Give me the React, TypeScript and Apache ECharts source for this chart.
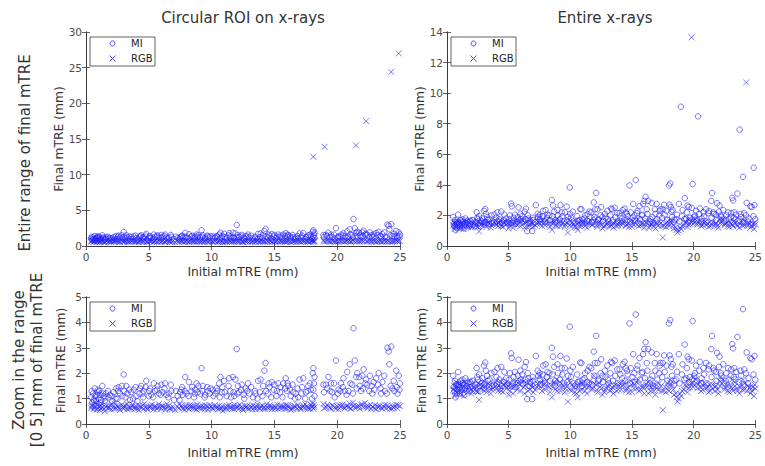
import React, { useEffect, useRef } from 'react';
import * as echarts from 'echarts';

const panelTitles = ['Circular ROI on x-rays', 'Entire x-rays'];
const rowLabelTop = 'Entire range of final mTRE';
const rowLabelBottom = ['Zoom in the range', '[0 5] mm of final mTRE'];
const xAxisName = 'Initial mTRE (mm)';
const yAxisName = 'Final mTRE (mm)';
const seriesNames = ['MI', 'RGB'];

// [min, max, interval]
const xRange = [0, 25, 5];
const yRangeCircFull = [0, 30, 5];
const yRangeEntFull = [0, 14, 2];
const yRangeZoom = [0, 5, 1];

// Circular ROI on x-rays: [initial mTRE, final mTRE]
const circMI = [
  [0.4,1.05],[0.5,0.85],[0.55,1.2],[0.6,0.95],[0.7,1.4],[0.75,1.1],[0.8,0.9],[0.9,1.25],[1.0,1.0],[1.05,1.3],
  [1.1,1.15],[1.2,0.95],[1.3,1.5],[1.4,1.1],[1.5,0.9],[1.6,1.2],[1.8,1.05],[1.9,1.15],[2.1,0.9],[2.2,1.25],
  [2.4,1.4],[2.5,1.0],[2.6,1.45],[2.7,1.2],[2.9,1.1],[3.0,1.95],[3.05,1.3],[3.2,1.5],[3.3,1.2],[3.5,0.95],
  [3.6,1.25],[3.8,1.35],[4.0,1.1],[4.1,0.9],[4.3,1.4],[4.4,1.5],[4.5,1.2],[4.6,1.3],[4.8,1.7],[5.0,1.1],
  [5.1,1.4],[5.2,1.15],[5.4,1.6],[5.5,1.3],[5.7,1.5],[5.8,1.2],[6.0,1.55],[6.1,1.25],[6.3,1.6],[6.4,1.15],
  [6.6,1.2],[6.8,1.3],[7.0,0.95],[7.3,1.1],[7.5,1.25],[7.6,1.35],[7.7,1.15],[7.9,1.85],[8.0,1.2],[8.2,1.65],
  [8.4,1.3],[8.6,1.05],[8.7,1.35],[8.8,1.6],[8.9,1.25],[9.1,1.2],[9.2,2.2],[9.3,1.5],[9.5,1.15],[9.7,1.3],
  [9.9,1.4],[10.1,1.35],[10.3,1.2],[10.4,1.4],[10.6,1.6],[10.7,1.85],[10.8,1.25],[11.0,1.7],[11.2,1.1],[11.4,1.8],
  [11.5,1.3],[11.7,1.85],[11.8,1.1],[11.9,1.75],[12.0,2.95],[12.1,1.5],[12.2,1.25],[12.4,1.55],[12.6,1.0],[12.7,1.4],
  [12.9,1.6],[13.0,1.2],[13.3,1.05],[13.5,1.2],[13.7,1.7],[13.9,1.75],[14.1,1.5],[14.2,2.1],[14.3,2.4],[14.5,1.2],
  [14.6,1.45],[14.8,1.65],[15.0,1.55],[15.2,1.3],[15.3,1.6],[15.5,1.45],[15.7,1.6],[15.9,1.8],[16.0,1.3],[16.1,1.5],
  [16.3,1.1],[16.5,1.25],[16.7,1.2],[16.9,1.05],[17.0,1.75],[17.2,1.45],[17.3,1.8],[17.5,1.25],[17.7,1.5],[17.9,1.35],
  [18.0,1.0],[18.05,2.0],[18.1,2.2],[18.15,1.6],[18.2,1.85],[18.2,1.1],[18.9,1.55],[19.1,1.55],[19.3,1.85],[19.5,1.6],
  [19.6,1.25],[19.8,1.05],[19.9,2.5],[20.1,1.35],[20.3,1.6],[20.5,1.8],[20.6,1.3],[20.8,2.05],[20.9,1.3],[21.0,2.35],
  [21.2,1.55],[21.3,3.77],[21.4,2.5],[21.5,1.85],[21.6,2.0],[21.8,1.5],[21.9,1.3],[22.0,1.9],[22.1,2.15],[22.3,1.75],
  [22.4,1.55],[22.6,1.9],[22.8,1.2],[22.9,1.65],[23.1,1.8],[23.3,2.0],[23.5,1.2],[23.6,1.65],[23.8,1.3],[24.0,3.0],
  [24.1,2.85],[24.15,2.35],[24.3,3.05],[24.4,1.4],[24.5,1.7],[24.7,2.1],[24.8,1.2],[24.9,1.9],[25.0,1.6],
  [0.45,1.3],[0.65,0.9],[0.85,1.15],[0.95,1.35],[1.15,0.85],[1.35,1.2],[1.55,1.05],[1.75,1.3],[2.05,1.1],[2.35,1.0],
  [2.55,1.3],[2.85,1.5],[3.15,1.05],[3.45,1.35],[3.75,1.0],[3.95,1.45],[4.25,1.2],[4.55,1.05],[4.75,1.45],[5.05,1.3],
  [5.35,1.05],[5.65,1.35],[5.95,1.15],[6.25,1.4],[6.55,1.05],[6.75,1.55],[7.15,1.3],[7.45,0.95],[7.65,1.45],[7.85,1.3],
  [8.15,1.1],[8.45,1.45],[8.65,1.2],[8.95,1.5],[9.25,1.3],[9.45,1.05],[9.65,1.45],[9.85,1.2],[10.15,1.1],[10.45,1.3],
  [10.65,1.05],[10.85,1.45],[11.05,1.25],[11.35,1.5],[11.55,1.05],[11.75,1.25],[12.05,1.2],[12.35,1.35],[12.55,1.15],[12.85,1.3],
  [13.15,1.45],[13.45,1.3],[13.65,1.0],[13.85,1.25],[14.05,1.1],[14.35,1.3],[14.55,1.6],[14.75,1.05],[14.95,1.35],[15.15,1.1],
  [15.45,1.25],[15.65,1.05],[15.85,1.4],[16.05,1.6],[16.25,1.35],[16.45,1.55],[16.65,1.0],[16.85,1.4],[17.15,1.2],[17.45,1.0],
  [17.65,1.3],[17.85,1.6],[18.1,1.35],[18.95,1.25],[19.2,1.4],[19.45,1.3],[19.75,1.6],[20.05,1.2],[20.25,1.3],[20.45,1.45],
  [20.75,1.15],[21.05,1.6],[21.25,1.2],[21.55,1.4],[21.75,1.85],[22.05,1.4],[22.25,1.6],[22.55,1.3],[22.75,1.5],[22.95,1.35],
  [23.25,1.55],[23.45,1.4],[23.75,1.9],[23.95,1.2],[24.25,1.5],[24.55,1.3],[24.75,1.45],[24.95,1.35]
];

const circRGB = [
  [0.4,0.62],[0.5,0.75],[0.6,0.58],[0.7,0.7],[0.8,0.82],[0.9,0.6],[1.0,0.68],[1.1,0.55],[1.2,0.72],[1.3,0.64],
  [1.5,0.5],[1.6,0.66],[1.8,0.6],[1.9,0.74],[2.0,0.57],[2.2,0.68],[2.3,0.8],[2.4,0.62],[2.6,0.7],[2.7,0.55],
  [2.9,0.66],[3.0,0.6],[3.1,0.72],[3.3,0.58],[3.4,0.68],[3.6,0.62],[3.7,0.76],[3.9,0.6],[4.0,0.7],[4.2,0.55],
  [4.3,0.66],[4.5,0.74],[4.6,0.6],[4.8,0.68],[4.9,0.57],[5.1,0.72],[5.2,0.63],[5.4,0.58],[5.5,0.7],[5.7,0.65],
  [5.8,0.78],[6.0,0.6],[6.1,0.7],[6.3,0.56],[6.4,0.66],[6.6,0.73],[6.7,0.6],[6.9,0.68],[7.1,0.55],[7.4,0.62],
  [7.6,0.72],[7.7,0.6],[7.9,0.66],[8.0,0.75],[8.2,0.58],[8.3,0.68],[8.5,0.62],[8.6,0.72],[8.8,0.57],[8.9,0.66],
  [9.1,0.7],[9.2,0.6],[9.4,0.65],[9.5,0.74],[9.7,0.56],[9.8,0.64],[10.0,0.7],[10.1,0.6],[10.3,0.66],[10.5,0.58],
  [10.6,0.72],[10.8,0.62],[10.9,0.52],[11.1,0.68],[11.2,0.6],[11.4,0.75],[11.5,0.63],[11.7,0.7],[11.8,0.58],[11.9,0.66],
  [12.1,0.72],[12.2,0.6],[12.4,0.68],[12.5,0.55],[12.7,0.64],[12.8,0.7],[13.0,0.6],[13.2,0.66],[13.3,0.74],[13.5,0.58],
  [13.6,0.68],[13.8,0.62],[13.9,0.7],[14.1,0.6],[14.2,0.66],[14.4,0.78],[14.5,0.62],[14.7,0.68],[14.8,0.58],[15.0,0.7],
  [15.1,0.64],[15.3,0.6],[15.5,0.72],[15.6,0.62],[15.8,0.68],[15.9,0.75],[16.0,0.6],[16.1,0.7],[16.3,0.56],[16.5,0.66],
  [16.6,0.72],[16.8,0.6],[17.0,0.68],[17.1,0.58],[17.3,0.72],[17.4,0.64],[17.6,0.7],[17.7,0.6],[17.9,0.76],[18.0,0.66],
  [18.05,0.82],[18.1,0.6],[18.15,0.74],[18.1,12.5],[18.9,0.78],[19.0,13.9],[19.1,0.66],[19.3,0.7],[19.5,0.6],[19.6,0.74],
  [19.8,0.65],[20.0,0.7],[20.1,0.58],[20.3,0.68],[20.4,0.76],[20.6,0.62],[20.7,0.7],[20.9,0.66],[21.0,0.8],[21.1,0.6],
  [21.3,0.72],[21.4,0.64],[21.5,14.1],[21.6,0.7],[21.8,0.6],[21.9,0.76],[22.1,0.66],[22.2,0.82],[22.3,17.5],[22.4,0.62],
  [22.5,0.7],[22.7,0.6],[22.8,0.68],[23.0,0.74],[23.1,0.58],[23.3,0.66],[23.4,0.72],[23.6,0.6],[23.7,0.68],[23.9,0.62],
  [24.0,0.74],[24.2,0.6],[24.3,24.4],[24.4,0.7],[24.5,0.64],[24.7,0.76],[24.8,0.62],[24.9,27.0],[25.0,0.7],
  [0.45,0.7],[0.65,0.64],[0.85,0.56],[0.95,0.74],[1.15,0.62],[1.25,0.8],[1.45,0.6],[1.65,0.72],[1.85,0.66],[2.05,0.78],
  [2.25,0.6],[2.45,0.72],[2.65,0.62],[2.85,0.76],[3.05,0.66],[3.25,0.8],[3.45,0.6],[3.65,0.7],[3.85,0.66],[4.05,0.6],
  [4.25,0.74],[4.45,0.64],[4.65,0.8],[4.85,0.62],[5.05,0.66],[5.25,0.76],[5.45,0.68],[5.65,0.58],[5.85,0.68],[6.05,0.72],
  [6.25,0.64],[6.45,0.78],[6.65,0.62],[6.85,0.58],[7.25,0.7],[7.45,0.76],[7.65,0.66],[7.85,0.56],[8.05,0.64],[8.25,0.74],
  [8.45,0.7],[8.65,0.6],[8.85,0.76],[9.05,0.62],[9.25,0.72],[9.45,0.58],[9.65,0.7],[9.85,0.74],[10.05,0.62],[10.25,0.74],
  [10.45,0.66],[10.65,0.6],[10.85,0.7],[11.05,0.58],[11.25,0.7],[11.45,0.66],[11.65,0.6],[11.85,0.76],[12.05,0.64],[12.25,0.76],
  [12.45,0.6],[12.65,0.72],[12.85,0.62],[13.05,0.7],[13.25,0.58],[13.45,0.66],[13.65,0.76],[13.85,0.6],[14.05,0.72],[14.25,0.6],
  [14.45,0.66],[14.65,0.74],[14.85,0.66],[15.05,0.6],[15.25,0.76],[15.45,0.64],[15.65,0.7],[15.85,0.6],[16.05,0.74],[16.25,0.64],
  [16.45,0.6],[16.65,0.68],[16.85,0.74],[17.05,0.62],[17.25,0.66],[17.45,0.78],[17.65,0.64],[17.85,0.6],[18.0,0.72],[18.2,0.66],
  [18.95,0.62],[19.2,0.76],[19.4,0.64],[19.7,0.7],[19.9,0.6],[20.2,0.74],[20.5,0.66],[20.8,0.72],[21.05,0.62],[21.25,0.84],
  [21.55,0.66],[21.75,0.7],[22.0,0.78],[22.35,0.7],[22.65,0.76],[22.95,0.62],[23.2,0.7],[23.5,0.64],[23.8,0.76],[24.1,0.66],
  [24.35,0.6],[24.6,0.7],[24.85,0.74]
];

// Entire x-rays
const entMI = [
  [0.5,1.9],[0.6,1.3],[0.7,1.05],[0.75,1.55],[0.8,1.2],[0.9,2.05],[1.0,1.45],[1.1,1.7],[1.2,1.35],[1.3,1.6],
  [1.4,1.15],[1.5,1.8],[1.6,1.5],[1.8,1.3],[1.9,1.65],[2.1,1.4],[2.3,1.55],[2.4,2.2],[2.5,1.75],[2.6,1.95],
  [2.7,1.3],[2.8,1.6],[3.0,2.3],[3.1,2.42],[3.15,2.1],[3.3,1.7],[3.4,1.45],[3.6,2.0],[3.8,1.55],[4.0,1.85],
  [4.1,2.2],[4.3,1.4],[4.4,2.25],[4.6,1.65],[4.8,1.8],[5.0,1.5],[5.1,2.0],[5.2,2.78],[5.25,2.6],[5.4,1.85],
  [5.5,2.05],[5.7,1.6],[5.8,2.53],[6.0,1.75],[6.1,1.95],[6.3,2.25],[6.4,2.44],[6.5,0.98],[6.6,1.8],[6.7,1.5],
  [6.9,0.98],[7.0,1.7],[7.2,2.68],[7.4,1.9],[7.5,2.0],[7.6,1.55],[7.8,2.3],[8.0,2.35],[8.1,1.85],[8.3,2.0],
  [8.5,3.0],[8.6,2.65],[8.7,2.25],[8.8,1.7],[9.0,2.0],[9.2,2.68],[9.3,2.2],[9.5,1.6],[9.7,2.58],[9.8,1.9],
  [9.95,3.83],[10.0,2.1],[10.2,2.25],[10.4,1.5],[10.6,1.65],[10.8,2.42],[10.9,2.4],[11.0,1.75],[11.2,2.0],[11.4,2.1],
  [11.5,1.6],[11.7,2.2],[11.9,2.85],[12.0,2.4],[12.1,3.47],[12.2,2.4],[12.3,1.75],[12.5,2.55],[12.6,1.9],[12.8,2.1],
  [13.0,2.3],[13.1,1.6],[13.3,2.45],[13.4,2.4],[13.6,2.5],[13.8,2.15],[14.0,2.15],[14.2,1.8],[14.4,2.45],[14.5,2.2],
  [14.6,2.1],[14.8,3.96],[14.9,2.2],[15.1,2.75],[15.2,2.0],[15.3,4.31],[15.4,2.15],[15.6,2.6],[15.8,2.0],[15.9,2.75],
  [16.0,2.95],[16.1,3.22],[16.2,2.4],[16.3,2.95],[16.5,1.75],[16.6,2.82],[16.7,1.5],[16.9,2.1],[17.0,2.75],[17.2,2.0],
  [17.3,2.4],[17.5,2.4],[17.6,2.7],[17.8,2.3],[18.0,3.96],[18.1,4.09],[18.15,2.55],[18.2,2.25],[18.3,2.35],[18.4,1.55],
  [18.6,1.75],[18.8,2.75],[18.96,9.11],[19.1,2.35],[19.28,3.13],[19.4,1.8],[19.5,2.65],[19.6,2.55],[19.7,1.85],[19.92,4.05],
  [20.1,2.0],[20.2,2.3],[20.36,8.48],[20.5,2.45],[20.6,1.6],[20.8,2.2],[21.0,2.4],[21.2,2.15],[21.43,2.95],[21.49,3.47],
  [21.6,2.2],[21.8,2.05],[21.9,2.8],[22.1,2.65],[22.2,2.0],[22.4,2.35],[22.6,1.7],[22.8,2.2],[23.0,1.9],[23.13,3.15],
  [23.2,2.98],[23.3,2.2],[23.4,1.75],[23.55,3.43],[23.73,7.61],[23.8,2.1],[24.0,4.52],[24.1,2.15],[24.3,2.82],[24.4,1.6],
  [24.6,2.6],[24.7,2.55],[24.87,5.12],[24.93,2.68],[25.0,1.75],
  [0.55,1.45],[0.65,1.7],[0.85,1.35],[0.95,1.55],[1.05,1.2],[1.25,1.75],[1.45,1.4],[1.65,1.6],[1.85,1.45],[2.05,1.7],
  [2.25,1.3],[2.45,1.85],[2.65,1.5],[2.85,1.8],[3.05,1.55],[3.25,1.9],[3.45,1.75],[3.65,1.5],[3.85,2.05],[4.05,1.6],
  [4.25,1.75],[4.45,1.5],[4.65,2.05],[4.85,1.55],[5.05,1.75],[5.35,1.6],[5.55,1.45],[5.75,1.9],[5.95,2.1],[6.15,1.6],
  [6.35,1.75],[6.55,2.0],[6.75,1.65],[6.95,1.85],[7.15,1.55],[7.35,2.1],[7.55,1.75],[7.75,1.95],[7.95,1.6],[8.15,2.05],
  [8.35,1.7],[8.55,1.95],[8.75,1.55],[8.95,2.35],[9.15,1.75],[9.35,1.95],[9.55,2.2],[9.75,1.65],[10.05,1.85],[10.25,1.6],
  [10.55,1.95],[10.75,1.7],[10.95,1.5],[11.15,1.8],[11.35,1.65],[11.55,2.25],[11.75,1.55],[11.95,1.9],[12.25,1.7],[12.45,2.0],
  [12.65,1.65],[12.85,1.85],[13.05,1.75],[13.25,2.0],[13.45,1.7],[13.65,1.9],[13.85,1.6],[14.05,1.95],[14.25,2.35],[14.45,1.7],
  [14.65,1.95],[14.85,1.6],[15.05,1.85],[15.25,1.65],[15.45,2.3],[15.65,1.75],[15.85,2.05],[16.05,1.8],[16.25,2.1],[16.45,1.6],
  [16.65,1.9],[16.85,2.4],[17.05,1.75],[17.25,2.3],[17.45,1.85],[17.65,2.05],[17.85,1.7],[18.05,2.7],[18.25,1.9],[18.45,1.7],
  [18.65,2.05],[18.85,1.6],[19.05,1.95],[19.25,1.75],[19.45,2.2],[19.65,1.65],[19.85,2.5],[20.05,1.9],[20.25,1.7],[20.45,2.1],
  [20.65,1.8],[20.85,1.95],[21.05,1.6],[21.25,2.3],[21.45,1.85],[21.65,2.1],[21.85,1.7],[22.05,2.25],[22.25,1.9],[22.45,1.6],
  [22.65,2.0],[22.85,1.75],[23.05,2.15],[23.25,1.85],[23.45,2.05],[23.65,1.65],[23.85,1.9],[24.05,1.55],[24.25,2.0],[24.45,1.8],
  [24.65,1.4],[24.85,1.95]
];

const entRGB = [
  [0.5,1.35],[0.6,1.1],[0.7,1.5],[0.8,1.25],[0.9,1.6],[1.0,1.4],[1.1,1.2],[1.2,1.55],[1.3,1.3],[1.4,1.65],
  [1.5,1.45],[1.7,1.25],[1.8,1.5],[2.0,1.35],[2.2,1.6],[2.4,1.45],[2.5,1.25],[2.6,0.95],[2.7,1.55],[2.9,1.35],
  [3.0,1.7],[3.1,1.5],[3.2,1.25],[3.4,1.45],[3.6,1.35],[3.8,1.55],[4.0,1.4],[4.2,1.5],[4.3,1.7],[4.4,1.3],
  [4.6,1.55],[4.8,1.4],[5.0,1.15],[5.1,1.3],[5.2,1.6],[5.4,1.45],[5.6,1.7],[5.7,1.35],[5.9,1.55],[6.0,1.75],
  [6.2,1.45],[6.3,1.2],[6.5,1.6],[6.7,1.35],[6.8,1.5],[7.0,1.25],[7.3,1.45],[7.5,1.9],[7.6,1.6],[7.7,1.3],
  [7.9,1.55],[8.1,1.7],[8.3,1.45],[8.5,1.05],[8.6,1.6],[8.8,1.35],[8.9,1.75],[9.1,1.5],[9.2,1.3],[9.4,1.55],
  [9.6,1.4],[9.8,0.88],[9.9,1.7],[10.1,1.3],[10.3,1.45],[10.5,1.2],[10.6,1.05],[10.7,1.6],[10.9,1.35],[11.0,1.55],
  [11.2,1.3],[11.4,1.45],[11.6,1.7],[11.8,1.4],[11.9,1.9],[12.1,1.55],[12.2,1.25],[12.4,1.45],[12.6,1.15],[12.8,1.35],
  [13.0,1.5],[13.2,1.3],[13.4,1.45],[13.5,1.2],[13.7,1.55],[13.9,1.35],[14.0,1.6],[14.2,1.5],[14.4,1.65],[14.5,1.3],
  [14.7,1.45],[14.9,1.7],[15.0,1.25],[15.2,1.55],[15.4,1.4],[15.5,1.75],[15.7,1.35],[15.9,1.5],[16.0,1.2],[16.2,1.45],
  [16.3,1.65],[16.5,1.3],[16.7,1.5],[16.9,1.15],[17.0,1.4],[17.2,1.6],[17.4,1.3],[17.5,0.55],[17.7,1.45],[17.9,1.6],
  [18.0,1.3],[18.1,1.75],[18.2,1.5],[18.4,1.15],[18.6,1.05],[18.7,0.88],[18.9,1.2],[19.0,1.1],[19.2,1.35],[19.4,1.5],
  [19.5,1.25],[19.6,1.75],[19.7,1.45],[19.83,13.65],[19.9,1.6],[20.0,1.85],[20.1,1.55],[20.3,1.4],[20.5,1.65],[20.6,1.3],
  [20.8,1.5],[21.0,1.4],[21.2,1.25],[21.3,1.55],[21.5,1.4],[21.7,1.3],[21.8,1.5],[22.0,1.2],[22.1,1.7],[22.2,1.85],
  [22.3,1.6],[22.5,1.35],[22.7,1.5],[22.9,1.25],[23.0,1.45],[23.2,1.3],[23.3,1.65],[23.5,1.4],[23.7,1.2],[23.9,1.55],
  [24.0,1.75],[24.1,1.35],[24.26,10.7],[24.4,1.5],[24.6,1.2],[24.8,1.45],[24.9,1.1],[25.0,1.4],
  [0.55,1.5],[0.65,1.3],[0.75,1.65],[0.85,1.4],[0.95,1.2],[1.05,1.55],[1.25,1.4],[1.35,1.1],[1.55,1.6],[1.65,1.35],
  [1.85,1.7],[1.95,1.2],[2.15,1.45],[2.35,1.3],[2.55,1.6],[2.75,1.4],[2.95,1.5],[3.15,1.35],[3.35,1.6],[3.55,1.2],
  [3.75,1.4],[3.95,1.65],[4.15,1.3],[4.35,1.45],[4.55,1.25],[4.75,1.6],[4.95,1.5],[5.15,1.45],[5.35,1.2],[5.55,1.5],
  [5.75,1.6],[5.95,1.3],[6.15,1.65],[6.35,1.5],[6.55,1.3],[6.75,1.7],[6.95,1.45],[7.15,1.35],[7.35,1.6],[7.55,1.45],
  [7.75,1.7],[7.95,1.35],[8.15,1.5],[8.35,1.25],[8.55,1.45],[8.75,1.6],[8.95,1.3],[9.15,1.65],[9.35,1.45],[9.55,1.25],
  [9.75,1.5],[9.95,1.35],[10.15,1.55],[10.35,1.25],[10.55,1.45],[10.75,1.3],[10.95,1.6],[11.15,1.45],[11.35,1.2],[11.55,1.5],
  [11.75,1.35],[11.95,1.6],[12.15,1.35],[12.35,1.6],[12.55,1.4],[12.75,1.25],[12.95,1.4],[13.15,1.55],[13.35,1.35],[13.55,1.5],
  [13.75,1.3],[13.95,1.5],[14.15,1.35],[14.35,1.55],[14.55,1.4],[14.75,1.25],[14.95,1.55],[15.15,1.4],[15.35,1.65],[15.55,1.3],
  [15.75,1.5],[15.95,1.4],[16.15,1.55],[16.35,1.2],[16.55,1.45],[16.75,1.3],[16.95,1.55],[17.15,1.35],[17.35,1.5],[17.55,1.3],
  [17.75,1.25],[17.95,1.45],[18.15,1.6],[18.35,1.35],[18.55,1.2],[18.8,1.0],[19.05,1.3],[19.3,1.55],[19.55,1.4],[19.75,1.6],
  [19.95,1.45],[20.15,1.75],[20.35,1.55],[20.55,1.45],[20.75,1.35],[20.95,1.6],[21.15,1.45],[21.35,1.3],[21.55,1.55],[21.75,1.45],
  [21.95,1.35],[22.15,1.5],[22.35,1.75],[22.55,1.45],[22.75,1.3],[22.95,1.55],[23.15,1.4],[23.35,1.5],[23.55,1.3],[23.75,1.45],
  [23.95,1.35],[24.15,1.6],[24.35,1.3],[24.55,1.45],[24.75,1.3],[24.95,1.55]
];

const BLUE = '#2020ff';
const AXIS = '#3a3a3a';
const LABEL = '#4a4a4a';
const FONT = 'DejaVu Sans, sans-serif';
const CROSS = 'path://M0,0L10,10M10,0L0,10';

export default function App() {
  const ref = useRef<HTMLDivElement>(null);
  useEffect(() => {
    if (!ref.current) return;
    const chart = echarts.init(ref.current, null, { renderer: 'svg' });

    const grids = [
      { left: 86, top: 32, width: 314, height: 214 },
      { left: 447, top: 32, width: 314, height: 214 },
      { left: 86, top: 297, width: 314, height: 127 },
      { left: 447, top: 297, width: 314, height: 127 },
    ];
    const yRanges = [yRangeCircFull, yRangeEntFull, yRangeZoom, yRangeZoom];
    const xNameGaps = [20, 20, 23, 23];
    const panelData = [
      [circMI, circRGB],
      [entMI, entRGB],
      [circMI, circRGB],
      [entMI, entRGB],
    ];

    const xAxes: any[] = [];
    const yAxes: any[] = [];
    const series: any[] = [];
    const legendGraphics: any[] = [];

    grids.forEach((g, i) => {
      const tick = { show: true, inside: true, length: 4, lineStyle: { color: AXIS, width: 0.8 } };
      const line = { show: true, lineStyle: { color: AXIS, width: 1 } };
      xAxes.push({
        type: 'value', gridIndex: i, position: 'bottom',
        min: xRange[0], max: xRange[1], interval: xRange[2],
        axisLine: line, axisTick: tick, splitLine: { show: false },
        axisLabel: { color: LABEL, fontSize: 10.5, fontFamily: FONT, margin: 5 },
        name: xAxisName, nameLocation: 'middle', nameGap: xNameGaps[i],
        nameTextStyle: { color: '#333', fontSize: 12.3, fontFamily: FONT },
      });
      xAxes.push({
        type: 'value', gridIndex: i, position: 'top',
        min: xRange[0], max: xRange[1], interval: xRange[2],
        axisLine: line, axisTick: tick, splitLine: { show: false },
        axisLabel: { show: false },
      });
      const yr = yRanges[i];
      yAxes.push({
        type: 'value', gridIndex: i, position: 'left',
        min: yr[0], max: yr[1], interval: yr[2],
        axisLine: line, axisTick: tick, splitLine: { show: false },
        axisLabel: { color: LABEL, fontSize: 10.5, fontFamily: FONT, margin: 4 },
        name: yAxisName, nameLocation: 'middle', nameGap: 19, nameRotate: 90,
        nameTextStyle: { color: '#333', fontSize: 12.3, fontFamily: FONT },
      });
      yAxes.push({
        type: 'value', gridIndex: i, position: 'right',
        min: yr[0], max: yr[1], interval: yr[2],
        axisLine: line, axisTick: tick, splitLine: { show: false },
        axisLabel: { show: false },
      });

      const [mi, rgb] = panelData[i];
      series.push({
        type: 'scatter', name: seriesNames[0], xAxisIndex: 2 * i, yAxisIndex: 2 * i,
        data: mi, symbol: 'circle', symbolSize: 5.5, clip: true,
        itemStyle: { color: 'rgba(0,0,0,0)', borderColor: BLUE, borderWidth: 0.75 },
      });
      series.push({
        type: 'scatter', name: seriesNames[1], xAxisIndex: 2 * i, yAxisIndex: 2 * i,
        data: rgb, symbol: CROSS, symbolSize: 6, clip: true,
        itemStyle: { color: 'rgba(0,0,0,0)', borderColor: BLUE, borderWidth: 0.75 },
      });

      // legend box (MATLAB style), drawn as graphic elements
      const lx = g.left + 4;
      const ly = g.top + 5;
      const ix = lx + 22.5;
      const tx = lx + 41;
      const r1 = ly + 6.5;
      const r2 = ly + 21.5;
      legendGraphics.push({
        type: 'group', z: 100,
        children: [
          { type: 'rect', shape: { x: lx, y: ly, width: 65, height: 29 },
            style: { fill: '#fff', stroke: AXIS, lineWidth: 0.8 } },
          { type: 'circle', shape: { cx: ix, cy: r1, r: 2.5 },
            style: { fill: 'none', stroke: BLUE, lineWidth: 0.8 } },
          { type: 'line', shape: { x1: ix - 3, y1: r2 - 3, x2: ix + 3, y2: r2 + 3 },
            style: { stroke: BLUE, lineWidth: 0.8 } },
          { type: 'line', shape: { x1: ix - 3, y1: r2 + 3, x2: ix + 3, y2: r2 - 3 },
            style: { stroke: BLUE, lineWidth: 0.8 } },
          { type: 'text', x: tx, y: r1,
            style: { text: seriesNames[0], fill: '#222', fontSize: 10, fontFamily: FONT, verticalAlign: 'middle' } },
          { type: 'text', x: tx, y: r2,
            style: { text: seriesNames[1], fill: '#222', fontSize: 10, fontFamily: FONT, verticalAlign: 'middle' } },
        ],
      });
    });

    const titleStyle = { color: '#333', fontSize: 15, fontWeight: 'normal', fontFamily: FONT };
    const rowStyle = { fill: '#333', fontSize: 15, fontFamily: FONT, align: 'center', verticalAlign: 'middle' };
    const option: any = {
      animation: false,
      backgroundColor: '#fff',
      grid: grids,
      xAxis: xAxes,
      yAxis: yAxes,
      series,
      title: [
        { text: panelTitles[0], left: 238, top: 5, textAlign: 'center', textStyle: titleStyle },
        { text: panelTitles[1], left: 600, top: 5, textAlign: 'center', textStyle: titleStyle },
      ],
      graphic: [
        { type: 'text', x: 25, y: 153, rotation: Math.PI / 2, style: { ...rowStyle, text: rowLabelTop } },
        { type: 'text', x: 19, y: 360, rotation: Math.PI / 2, style: { ...rowStyle, text: rowLabelBottom[0] } },
        { type: 'text', x: 37, y: 360, rotation: Math.PI / 2, style: { ...rowStyle, text: rowLabelBottom[1] } },
        ...legendGraphics,
      ],
    };
    chart.setOption(option);
    return () => chart.dispose();
  }, []);
  return <div ref={ref} style={{ position: 'absolute', left: 0, top: 0, width: 765, height: 466 }} />;
}
